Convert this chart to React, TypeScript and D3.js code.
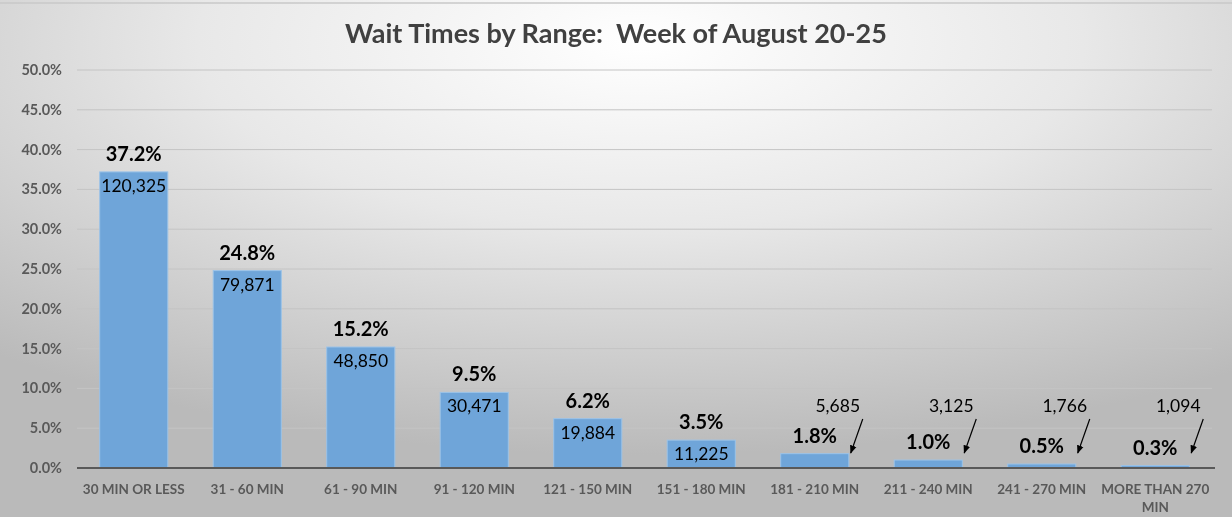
import React from "react";
import * as d3 from "d3";

const categories = [
  "30 MIN OR LESS",
  "31 - 60 MIN",
  "61 - 90 MIN",
  "91 - 120 MIN",
  "121 - 150 MIN",
  "151 - 180 MIN",
  "181 - 210 MIN",
  "211 - 240 MIN",
  "241 - 270 MIN",
  "MORE THAN 270 MIN",
];
const percents = [37.2, 24.8, 15.2, 9.5, 6.2, 3.5, 1.8, 1.0, 0.5, 0.3];
const counts = [120325, 79871, 48850, 30471, 19884, 11225, 5685, 3125, 1766, 1094];
const yTicks = [0, 5, 10, 15, 20, 25, 30, 35, 40, 45, 50];
// bars whose count label sits outside with an arrow
const calloutFrom = 6;

const width = 1232;
const height = 517;
const margin = { top: 70, right: 20, bottom: 49, left: 77 };
const font = "Lato, 'Open Sans', sans-serif";

const App: React.FC = () => {
  const x = d3
    .scaleBand<string>()
    .domain(categories)
    .range([margin.left, width - margin.right])
    .paddingInner(0.4)
    .paddingOuter(0.2);

  const y = d3
    .scaleLinear()
    .domain([0, 50])
    .range([height - margin.bottom, margin.top]);

  const fmtCount = d3.format(",");
  const fmtPct = (v: number) => `${v.toFixed(1)}%`;
  const y0 = y(0);

  return (
    <svg
      width={width}
      height={height}
      style={{ position: "fixed", left: 0, top: 0, fontFamily: font }}
    >
      <defs>
        <radialGradient id="bg" cx="52%" cy="8%" r="80%" fx="52%" fy="8%">
          <stop offset="0%" stopColor="#ffffff" />
          <stop offset="45%" stopColor="#e8e8e8" />
          <stop offset="100%" stopColor="#bababa" />
        </radialGradient>
        <marker
          id="arrow"
          viewBox="0 0 10 10"
          refX="9"
          refY="5"
          markerWidth="7"
          markerHeight="7"
          orient="auto"
        >
          <path d="M0,1 L10,5 L0,9 z" fill="#000" />
        </marker>
      </defs>
      <rect width={width} height={height} fill="url(#bg)" />
      <line x1={0} x2={width} y1={3} y2={3} stroke="#c8c8c8" strokeWidth={1.5} />

      <text
        x={616}
        y={43}
        textAnchor="middle"
        fontSize={27}
        fontWeight="bold"
        fill="#404040"
      >
        Wait Times by Range:{"\u00a0\u00a0"}Week of August 20-25
      </text>

      {yTicks.map((t) => (
        <g key={t}>
          {t > 0 && (
            <line
              x1={margin.left}
              x2={width - margin.right}
              y1={y(t)}
              y2={y(t)}
              stroke="#c4c4c4"
              strokeWidth={1}
            />
          )}
          <text
            x={62}
            y={y(t)}
            dy="0.35em"
            textAnchor="end"
            fontSize={14.5}
            fontWeight="bold"
            fill="#595959"
          >
            {fmtPct(t)}
          </text>
        </g>
      ))}

      {categories.map((c, i) => {
        const bx = x(c) as number;
        const bw = x.bandwidth();
        const cx = bx + bw / 2;
        const top = y(percents[i]);
        return (
          <g key={c}>
            <rect
              x={bx}
              y={top}
              width={bw}
              height={y0 - top}
              fill="#6fa5d9"
              stroke="#9cc3e8"
              strokeWidth={1}
            />
            <text
              x={cx}
              y={top - 11}
              textAnchor="middle"
              fontSize={20}
              fontWeight="bold"
              fill="#000"
            >
              {fmtPct(percents[i])}
            </text>
            {i < calloutFrom ? (
              <text x={cx} y={top + 20} textAnchor="middle" fontSize={17.5} fill="#000">
                {fmtCount(counts[i])}
              </text>
            ) : (
              <g>
                <text x={cx + 23} y={y0 - 56} textAnchor="middle" fontSize={17.5} fill="#000">
                  {fmtCount(counts[i])}
                </text>
                <line
                  x1={cx + 48}
                  y1={y0 - 49}
                  x2={cx + 36}
                  y2={y0 - 15}
                  stroke="#000"
                  strokeWidth={1.2}
                  markerEnd="url(#arrow)"
                />
              </g>
            )}
          </g>
        );
      })}

      <line
        x1={margin.left}
        x2={width - margin.right + 3}
        y1={y0}
        y2={y0}
        stroke="#595959"
        strokeWidth={2.2}
      />

      {categories.map((c) => {
        const cx = (x(c) as number) + x.bandwidth() / 2;
        const lines = c === "MORE THAN 270 MIN" ? ["MORE THAN 270", "MIN"] : [c];
        return (
          <text
            key={c}
            x={cx}
            y={494}
            textAnchor="middle"
            fontSize={13.5}
            fontWeight="bold"
            fill="#595959"
          >
            {lines.map((l, k) => (
              <tspan key={k} x={cx} dy={k === 0 ? 0 : 18}>
                {l}
              </tspan>
            ))}
          </text>
        );
      })}
    </svg>
  );
};

export default App;
